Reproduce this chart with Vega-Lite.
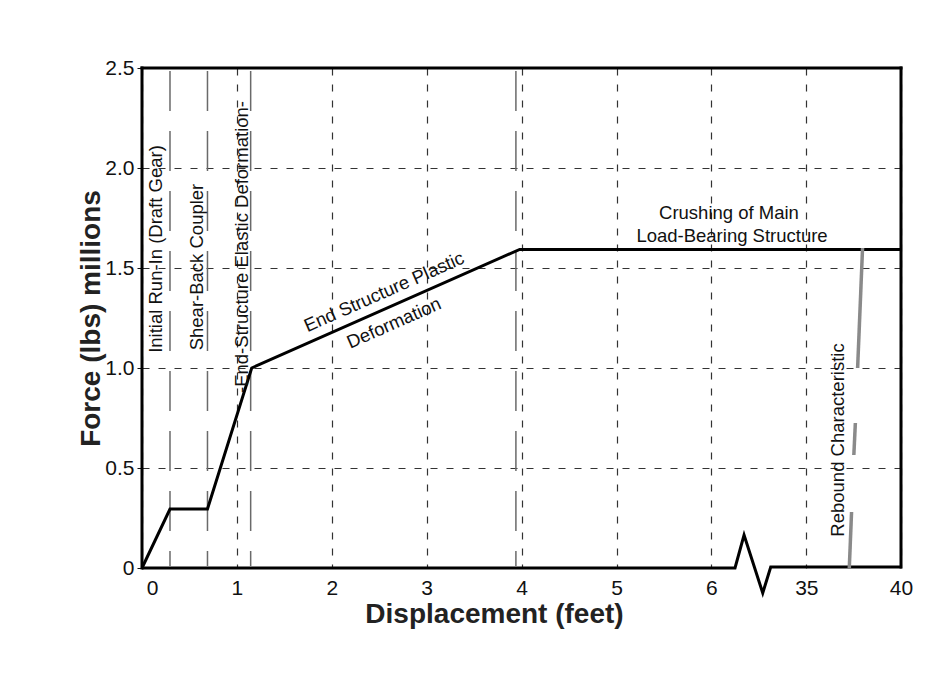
{
  "$schema": "https://vega.github.io/schema/vega-lite/v6.json",
  "width": 759,
  "height": 500,
  "autosize": {"type": "none"},
  "padding": {"left": 142, "top": 68, "right": 51, "bottom": 105},
  "background": "white",
  "config": {
    "view": {"stroke": null},
    "font": "Liberation Sans",
    "text": {"font": "Liberation Sans", "fontSize": 18.5, "color": "#111"}
  },
  "encoding": {
    "x": {
      "field": "x",
      "type": "quantitative",
      "scale": {"domain": [0, 6, 35, 40], "range": [0, 569.4, 664.3, 759], "nice": false, "zero": false},
      "axis": {
        "title": "Displacement (feet)",
        "titleFont": "Liberation Sans",
        "titleFontSize": 28,
        "titleFontWeight": "bold",
        "titleColor": "#222",
        "titlePadding": 2,
        "titleX": 352,
        "values": [0, 1, 2, 3, 4, 5, 6, 35, 40],
        "format": "d",
        "labelFont": "Liberation Sans",
        "labelFontSize": 21,
        "labelColor": "#111",
        "labelFlush": false,
        "labelPadding": 9,
        "labelOffset": {"condition": {"test": "datum.value == 0", "value": 10}, "value": 0},
        "ticks": false,
        "tickSize": 0,
        "domain": false,
        "grid": true,
        "gridColor": "#333",
        "gridDash": [7, 9],
        "gridWidth": 1.2
      }
    },
    "y": {
      "field": "y",
      "type": "quantitative",
      "scale": {"domain": [0, 2.5], "nice": false, "zero": false},
      "axis": {
        "title": "Force (lbs) millions",
        "titleFont": "Liberation Sans",
        "titleFontSize": 28,
        "titleFontWeight": "bold",
        "titleColor": "#222",
        "titlePadding": -1,
        "values": [0, 0.5, 1, 1.5, 2, 2.5],
        "labelExpr": "datum.value == 0 ? '0' : format(datum.value, '.1f')",
        "labelFont": "Liberation Sans",
        "labelFontSize": 21,
        "labelColor": "#111",
        "labelPadding": 3,
        "labelFlush": false,
        "ticks": true,
        "tickSize": 5,
        "tickColor": "#111",
        "domain": false,
        "grid": true,
        "gridColor": "#333",
        "gridDash": [7, 9],
        "gridWidth": 1.2,
        "gridOpacity": {"condition": {"test": "datum.value == 0 || datum.value == 2.5", "value": 0}, "value": 1}
      }
    }
  },
  "layer": [
    {
      "data": {"values": [
        {"x": 0.295, "y": 2.485, "y2": 0.01},
        {"x": 0.69, "y": 2.485, "y2": 0.01},
        {"x": 1.145, "y": 2.485, "y2": 0.01},
        {"x": 3.94, "y": 2.485, "y2": 0.01}
      ]},
      "mark": {"type": "rule", "color": "#6a6a6a", "strokeWidth": 1.5, "strokeDash": [40, 20]},
      "encoding": {"y2": {"field": "y2"}}
    },
    {
      "data": {"values": [
        {"x": 0, "y": 0},
        {"x": 0.295, "y": 0.295},
        {"x": 0.69, "y": 0.295},
        {"x": 1.156, "y": 1.0},
        {"x": 3.98, "y": 1.593},
        {"x": 40, "y": 1.593}
      ]},
      "mark": {"type": "line", "color": "black", "strokeWidth": 3, "strokeJoin": "miter"},
      "encoding": {"order": {"field": "x", "type": "quantitative"}}
    },
    {
      "data": {"values": [
        {"x": 0, "y": 0, "i": 0},
        {"x": 13.22, "y": 0, "i": 1},
        {"x": 15.98, "y": 0.165, "i": 2},
        {"x": 21.69, "y": -0.125, "i": 3},
        {"x": 24.13, "y": 0.005, "i": 4},
        {"x": 40, "y": 0.005, "i": 5}
      ]},
      "mark": {"type": "line", "color": "black", "strokeWidth": 3, "strokeJoin": "miter"},
      "encoding": {"order": {"field": "i", "type": "quantitative"}}
    },
    {
      "data": {"values": [
        {"x": 37.71, "y": 1.0, "x2": 37.97, "y2": 1.6},
        {"x": 37.51, "y": 0.565, "x2": 37.59, "y2": 0.725},
        {"x": 37.27, "y": 0.0, "x2": 37.39, "y2": 0.28}
      ]},
      "mark": {"type": "rule", "color": "#8a8a8a", "strokeWidth": 3.5},
      "encoding": {"x2": {"field": "x2"}, "y2": {"field": "y2"}}
    },
    {
      "data": {"values": [
        {"x": 0, "y": 0, "x2": 0, "y2": 2.5},
        {"x": 0, "y": 2.5, "x2": 40, "y2": 2.5},
        {"x": 40, "y": 0.005, "x2": 40, "y2": 2.5}
      ]},
      "mark": {"type": "rule", "color": "black", "strokeWidth": 3, "strokeCap": "square"},
      "encoding": {"x2": {"field": "x2"}, "y2": {"field": "y2"}}
    },
    {
      "data": {"values": [
        {"x": 0.148, "y": 1.595, "label": "Initial Run-In (Draft Gear)"},
        {"x": 0.58, "y": 1.505, "label": "Shear-Back Coupler"},
        {"x": 1.05, "y": 1.605, "label": "-End-Structure Elastic Deformation-"},
        {"x": 36.7, "y": 0.64, "label": "Rebound Characteristic"}
      ]},
      "mark": {"type": "text", "angle": 270, "align": "center", "baseline": "middle"},
      "encoding": {"text": {"field": "label"}}
    },
    {
      "data": {"values": [
        {"x": 2.55, "y": 1.38, "label": "End Structure Plastic"},
        {"x": 2.655, "y": 1.225, "label": "Deformation"}
      ]},
      "mark": {"type": "text", "angle": 336.2, "align": "center", "baseline": "middle"},
      "encoding": {"text": {"field": "label"}}
    },
    {
      "data": {"values": [
        {"x": 11.37, "y": 1.775, "label": "Crushing of Main"},
        {"x": 12.3, "y": 1.66, "label": "Load-Bearing Structure"}
      ]},
      "mark": {"type": "text", "align": "center", "baseline": "middle"},
      "encoding": {"text": {"field": "label"}}
    }
  ]
}
